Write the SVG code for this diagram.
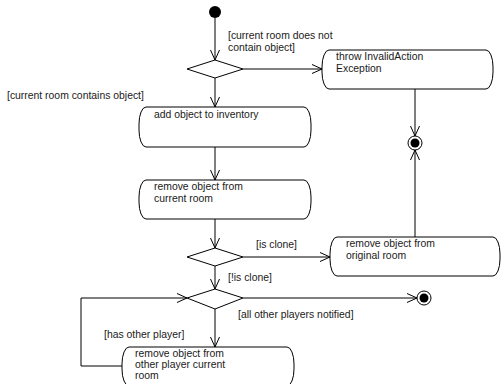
<svg xmlns="http://www.w3.org/2000/svg" width="502" height="384" viewBox="0 0 502 384">
  <style>
    .act { fill: #fff; stroke: #000; stroke-width: 1; }
    .dec { fill: #fff; stroke: #000; stroke-width: 1; }
    .edge { fill: none; stroke: #000; stroke-width: 1; }
    text { font-family: "Liberation Sans", Arial, sans-serif; font-size: 10.4px; fill: #1a1a1a; }
  </style>
  <defs>
    <marker id="open" viewBox="0 0 12 10" refX="11" refY="5" markerWidth="12" markerHeight="10" markerUnits="userSpaceOnUse" orient="auto">
      <path d="M1,0.5 L11,5 L1,9.5" fill="none" stroke="#000" stroke-width="1"/>
    </marker>
  </defs>

  <!-- connectors -->
  <g id="edges">
    <path class="edge" d="M215,18 V60" marker-end="url(#open)"/>
    <path class="edge" d="M243,69 H322" marker-end="url(#open)"/>
    <path class="edge" d="M215,78 V107" marker-end="url(#open)"/>
    <path class="edge" d="M215,147 V180" marker-end="url(#open)"/>
    <path class="edge" d="M215,219 V248" marker-end="url(#open)"/>
    <path class="edge" d="M243,257 H330" marker-end="url(#open)"/>
    <path class="edge" d="M215,266 V289" marker-end="url(#open)"/>
    <path class="edge" d="M243,298 H417" marker-end="url(#open)"/>
    <path class="edge" d="M215,309 V347" marker-end="url(#open)"/>
    <path class="edge" d="M122,366 H81 V298 H187" marker-end="url(#open)"/>
    <path class="edge" d="M415,89 V136" marker-end="url(#open)"/>
    <path class="edge" d="M415,237 V150" marker-end="url(#open)"/>
    <text x="228" y="38.5">[current room does not</text>
    <text x="228" y="51">contain object]</text>
    <text x="7" y="98.5">[current room contains object]</text>
    <text x="256" y="247.5">[is clone]</text>
    <text x="228" y="281">[!is clone]</text>
    <text x="238" y="318">[all other players notified]</text>
    <text x="104" y="337.5">[has other player]</text>
  </g>

  <g id="start">
    <circle cx="215" cy="12" r="6" fill="#000"/>
  </g>

  <g id="decision-room">
    <polygon class="dec" points="215,60 243,69 215,78 187,69"/>
  </g>

  <g id="throw-exception">
    <rect class="act" x="322" y="50" width="171" height="39" rx="7" ry="17"/>
    <text x="336" y="59.5">throw InvalidAction</text>
    <text x="336" y="72">Exception</text>
  </g>

  <g id="final-exception">
    <circle cx="415" cy="143" r="7" fill="#fff" stroke="#000"/>
    <circle cx="415" cy="143" r="4.5" fill="#000"/>
  </g>

  <g id="add-inventory">
    <rect class="act" x="139" y="107" width="172" height="40" rx="7" ry="17"/>
    <text x="154" y="117.5">add object to inventory</text>
  </g>

  <g id="remove-current">
    <rect class="act" x="139" y="180" width="172" height="39" rx="7" ry="17"/>
    <text x="154" y="190">remove object from</text>
    <text x="154" y="202">current room</text>
  </g>

  <g id="decision-clone">
    <polygon class="dec" points="215,248 243,257 215,266 187,257"/>
  </g>

  <g id="remove-original">
    <rect class="act" x="330" y="237" width="170" height="39" rx="7" ry="17"/>
    <text x="346" y="247">remove object from</text>
    <text x="346" y="259">original room</text>
  </g>

  <g id="decision-players">
    <polygon class="dec" points="215,289 243,298 215,309 187,298"/>
  </g>

  <g id="final-done">
    <circle cx="424" cy="298" r="7" fill="#fff" stroke="#000"/>
    <circle cx="424" cy="298" r="4.5" fill="#000"/>
  </g>

  <g id="remove-other">
    <rect class="act" x="122" y="347" width="172" height="39" rx="7" ry="17"/>
    <text x="135" y="357">remove object from</text>
    <text x="135" y="368">other player current</text>
    <text x="135" y="379">room</text>
  </g>
</svg>
